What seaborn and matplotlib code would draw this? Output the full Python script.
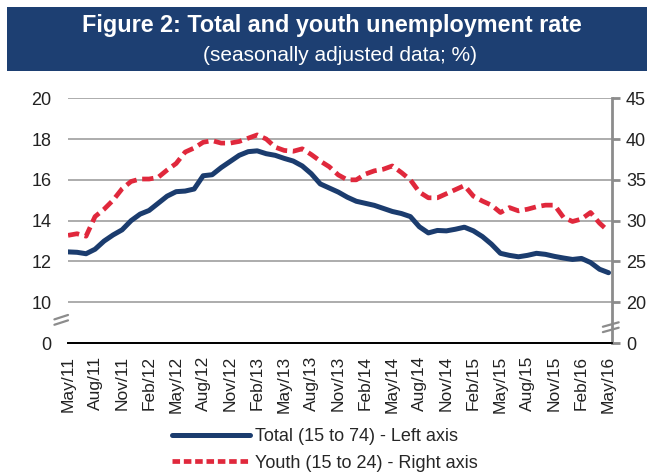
import matplotlib
matplotlib.use("Agg")
import matplotlib.pyplot as plt
from matplotlib.lines import Line2D
from matplotlib.patches import Rectangle
import seaborn as sns

# monthly data, May/11 .. May/16
TOTAL = [
    12.47, 12.45, 12.38, 12.6, 13.0, 13.3, 13.55, 14.0, 14.32, 14.5,
    14.85, 15.2, 15.42, 15.45, 15.55, 16.2, 16.25, 16.6, 16.9, 17.2,
    17.38, 17.42, 17.28, 17.2, 17.05, 16.92, 16.68, 16.3, 15.8, 15.6,
    15.4, 15.15, 14.95, 14.85, 14.75, 14.6, 14.45, 14.35, 14.2, 13.7,
    13.4, 13.52, 13.5, 13.58, 13.68, 13.5, 13.22, 12.85, 12.4, 12.3,
    12.23, 12.3, 12.4, 12.35, 12.25, 12.17, 12.1, 12.15, 11.95, 11.62,
    11.45,
]
YOUTH = [
    28.2, 28.4, 28.1, 30.5, 31.4, 32.5, 33.9, 34.8, 35.1, 35.1,
    35.3, 36.2, 37.0, 38.4, 38.9, 39.6, 39.8, 39.5, 39.5, 39.7,
    40.1, 40.5, 40.0, 39.0, 38.6, 38.5, 38.8, 38.1, 37.3, 36.6,
    35.6, 35.0, 35.0, 35.7, 36.1, 36.3, 36.7, 35.9, 35.0, 33.5,
    32.8, 32.8, 33.3, 33.8, 34.3, 33.0, 32.4, 31.9, 31.0, 31.6,
    31.2, 31.4, 31.7, 31.9, 31.9, 30.4, 29.9, 30.2, 31.0, 29.7,
    28.7,
]
TICK_LABELS = [
    "May/11", "Aug/11", "Nov/11", "Feb/12", "May/12", "Aug/12", "Nov/12",
    "Feb/13", "May/13", "Aug/13", "Nov/13", "Feb/14", "May/14", "Aug/14",
    "Nov/14", "Feb/15", "May/15", "Aug/15", "Nov/15", "Feb/16", "May/16",
]
LEFT_TICKS = [10, 12, 14, 16, 18, 20]
RIGHT_TICKS = [20, 25, 30, 35, 40, 45]
LEFT_BREAK = 8    # where the "0" label sits on the broken left axis
RIGHT_BREAK = 15  # same on the right axis

BLUE = "#1b3c6e"
RED = "#e0283c"
GREY = "#8c8c8c"
BOX = "#1d3f72"

sns.set_theme(style="white")
plt.rcParams["font.family"] = ["Liberation Sans", "DejaVu Sans"]

fig = plt.figure(figsize=(6.54, 4.72), dpi=100)
ax = fig.add_axes([0.104, 0.273, 0.832, 0.519])
ax2 = ax.twinx()

x = list(range(len(TOTAL)))
sns.lineplot(x=x, y=TOTAL, ax=ax, color=BLUE, linewidth=3.6, legend=False)
sns.lineplot(x=x, y=YOUTH, ax=ax2, color=RED, linewidth=3.4, legend=False)
ax2.lines[0].set_dashes((2.4, 1.2))

ax.set_xlim(0, len(TOTAL) - 0.6)
ax.set_ylim(LEFT_BREAK, LEFT_TICKS[-1])
ax2.set_ylim(RIGHT_BREAK, RIGHT_TICKS[-1])

ax.set_yticks([LEFT_BREAK] + LEFT_TICKS, ["0"] + [str(t) for t in LEFT_TICKS])
ax2.set_yticks([RIGHT_BREAK] + RIGHT_TICKS, ["0"] + [str(t) for t in RIGHT_TICKS])
ax.set_xticks(x[::3], TICK_LABELS, rotation=90)

for t in LEFT_TICKS:
    ax.axhline(t, color="#a6a6a6", linewidth=1.3, zorder=0)

for a in (ax, ax2):
    a.set_xlabel("")
    a.set_ylabel("")
    a.spines["top"].set_visible(False)
    a.spines["left"].set_visible(False)
    a.spines["right"].set_visible(False)
    a.spines["bottom"].set_color("black")
    a.spines["bottom"].set_linewidth(1.3)
ax2.spines["right"].set_visible(True)
ax2.spines["right"].set_color(GREY)
ax2.spines["right"].set_linewidth(2)

ax.tick_params(axis="y", length=0, pad=12, labelsize=13, colors="#222222")
ax.tick_params(axis="x", length=6, width=1.3, color="black", direction="out",
               labelsize=12.5, labelcolor="#222222", pad=3)
ax2.tick_params(axis="y", length=6, width=2, color=GREY, direction="out",
                labelsize=13, labelcolor="#222222", pad=4)

# axis break marks
for dy in (0.0, 0.022):
    ax.plot([-0.025, 0.0], [0.075 + dy, 0.093 + dy], transform=ax.transAxes,
            color=GREY, linewidth=1.6, clip_on=False)
    ax.plot([0.983, 1.012], [0.045 + dy, 0.063 + dy], transform=ax.transAxes,
            color=GREY, linewidth=1.6, clip_on=False)

# title box
fig.patches.append(Rectangle((0.011, 0.850), 0.978, 0.136, transform=fig.transFigure,
                             facecolor=BOX, edgecolor="none", zorder=0))
fig.text(0.508, 0.946, "Figure 2: Total and youth unemployment rate", color="white",
         fontsize=16.8, fontweight="bold", ha="center", va="center")
fig.text(0.52, 0.883, "(seasonally adjusted data; %)", color="white",
         fontsize=15, ha="center", va="center")

handles = [
    Line2D([], [], color=BLUE, linewidth=3.6),
    Line2D([], [], color=RED, linewidth=3.4, dashes=(1.6, 0.8)),
]
fig.legend(handles, ["Total (15 to 74) - Left axis", "Youth (15 to 24) - Right axis"],
           loc="center", bbox_to_anchor=(0.497, 0.047), frameon=False, ncol=1,
           handlelength=4.3, handletextpad=0.3, labelspacing=0.55,
           prop={"size": 13})

fig.savefig("out.png", dpi=100)
